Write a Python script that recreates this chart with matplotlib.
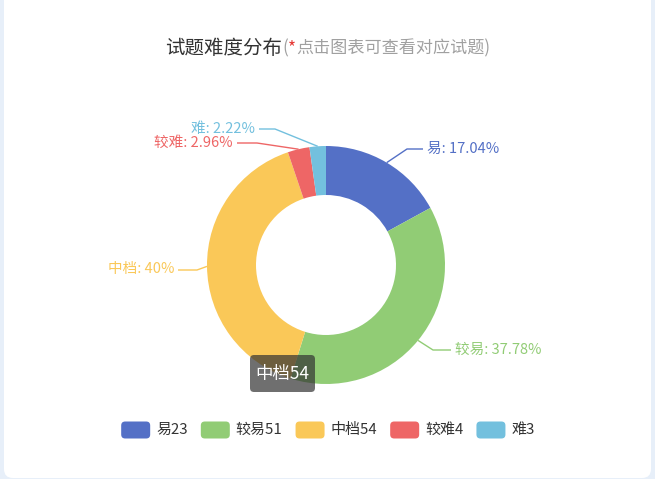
import matplotlib
matplotlib.use("Agg")
import matplotlib.pyplot as plt
from matplotlib.patches import FancyBboxPatch
import numpy as np

plt.rcParams["font.family"] = ["Noto Sans CJK SC", "DejaVu Sans"]

# data
names = ["易", "较易", "中档", "较难", "难"]
counts = [23, 51, 54, 4, 3]
percent_labels = ["17.04%", "37.78%", "40%", "2.96%", "2.22%"]
colors = ["#5470c6", "#91cc75", "#fac858", "#ee6666", "#73c0de"]
title = "试题难度分布"
subtitle = "点击图表可查看对应试题"
tooltip_idx = 2

W, H = 655, 479
CX, CY, R_OUT, R_IN = 326, 265, 119, 70

# label layout in pixel rows (elbow point, end point, text side)
label_layout = [
    ((407, 149), (423, 149), "left"),
    ((433, 350), (451, 350), "left"),
    ((197, 270), (178, 270), "right"),
    ((257, 143), (237, 143), "right"),
    ((275, 129), (259, 129), "right"),
]


def Y(y):
    return H - y


fig = plt.figure(figsize=(W / 100, H / 100), dpi=100)
fig.patch.set_facecolor("#e7eff9")
ax = fig.add_axes([0, 0, 1, 1])

# card
ax.add_patch(FancyBboxPatch((4, Y(478)), 647, 490, boxstyle="round,pad=0,rounding_size=9",
                            facecolor="white", edgecolor="none", zorder=0))

wedges, _ = ax.pie(counts, colors=colors, startangle=90, counterclock=False,
                   radius=R_OUT, center=(CX, Y(CY)),
                   wedgeprops=dict(width=R_OUT - R_IN, linewidth=0))
for w in wedges:
    w.set_zorder(2)

ax.set_xlim(0, W)
ax.set_ylim(0, H)
ax.set_aspect("equal")
ax.axis("off")

# outer labels with leader lines
for w, nm, pct, col, (elbow, end, side) in zip(wedges, names, percent_labels, colors, label_layout):
    mid = np.deg2rad((w.theta1 + w.theta2) / 2)
    sx = CX + R_OUT * np.cos(mid)
    sy = Y(CY) + R_OUT * np.sin(mid)
    ax.plot([sx, elbow[0], end[0]], [sy, Y(elbow[1]), Y(end[1])], color=col,
            lw=1, solid_capstyle="butt", zorder=3)
    tx = end[0] + 4 if side == "left" else end[0] - 4
    ax.text(tx, Y(end[1]) + 0.5, f"{nm}: {pct}", color=col, fontsize=10.5,
            ha=side, va="center", zorder=3)

fig.canvas.draw()
renderer = fig.canvas.get_renderer()


def width_of(t):
    return t.get_window_extent(renderer).width


# title made of pieces
pieces = [(title, "#333333", 14), ("(", "#a0a0a0", 12.3), ("*", "#e53935", 12.3),
          (subtitle + ")", "#a0a0a0", 12.3)]
texts = [ax.text(0, Y(48.5), s, color=c, fontsize=fs, ha="left", va="center") for s, c, fs in pieces]
total = sum(width_of(t) for t in texts)
x = 327.5 - total / 2
for t in texts:
    t.set_x(x)
    x += width_of(t)

# legend
box_w, box_h, gap, item_gap = 29, 17, 6, 13
leg_texts = [ax.text(0, Y(430), f"{nm}{c}", color="#333333", fontsize=10.8,
                     ha="left", va="center") for nm, c in zip(names, counts)]
total = sum(box_w + gap + width_of(t) for t in leg_texts) + item_gap * (len(leg_texts) - 1)
x = 328 - total / 2
for t, col in zip(leg_texts, colors):
    ax.add_patch(FancyBboxPatch((x, Y(430) - box_h / 2), box_w, box_h,
                                boxstyle="round,pad=0,rounding_size=4",
                                facecolor=col, edgecolor="none"))
    t.set_x(x + box_w + gap)
    x += box_w + gap + width_of(t) + item_gap

# tooltip for hovered slice
ax.add_patch(FancyBboxPatch((250, Y(392)), 65, 37, boxstyle="round,pad=0,rounding_size=4",
                            facecolor="#323232", alpha=0.7, edgecolor="none", zorder=5))
ax.text(282.5, Y(373.5), f"{names[tooltip_idx]}{counts[tooltip_idx]}", color="white",
        fontsize=12.5, ha="center", va="center", zorder=6)

fig.savefig("out.png", dpi=100, facecolor=fig.get_facecolor())
